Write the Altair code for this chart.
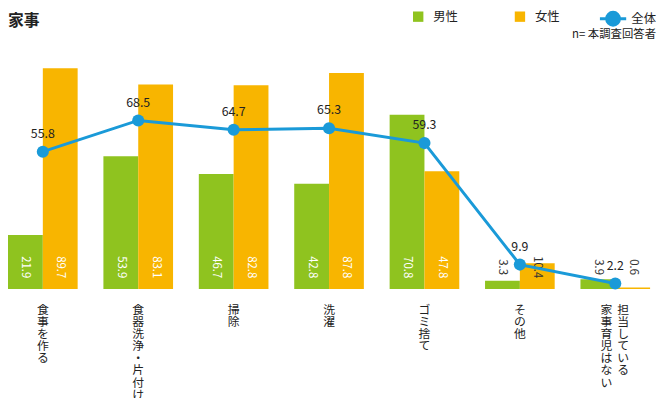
import altair as alt
import pandas as pd

categories = ["食事を作る", "食器洗浄・片付け", "掃除", "洗濯", "ゴミ捨て", "その他", "担当している家事育児はない"]
groups = ["男性", "女性"]
male = [21.9, 53.9, 46.7, 42.8, 70.8, 3.3, 3.9]
female = [89.7, 83.1, 82.8, 87.8, 47.8, 10.4, 0.6]
overall = [55.8, 68.5, 64.7, 65.3, 59.3, 9.9, 2.2]
label_columns = [["食事を作る"], ["食器洗浄・片付け"], ["掃除"], ["洗濯"], ["ゴミ捨て"], ["その他"],
                 ["担当している", "家事育児はない"]]
title_text = "家事"
note_text = "n= 本調査回答者"

GREEN = "#8fc31f"
ORANGE = "#f8b500"
BLUE = "#1a9ad8"
DARK = "#222222"
FONT = "Noto Sans CJK JP"

bars = pd.DataFrame(
    [{"category": c, "group": "男性", "value": v} for c, v in zip(categories, male)]
    + [{"category": c, "group": "女性", "value": v} for c, v in zip(categories, female)]
)
line = pd.DataFrame({"category": categories, "value": overall, "series": ["全体"] * len(categories)})
labels = pd.DataFrame(
    [{"category": c, "text": t, "col": i, "ncols": len(cols)}
     for c, cols in zip(categories, label_columns) for i, t in enumerate(cols)]
)

W, H = 650, 249

x = alt.X("category:N", sort=categories, axis=None,
          scale=alt.Scale(paddingInner=0.27, paddingOuter=0))
y = alt.Y("value:Q", axis=None, scale=alt.Scale(domain=[0, 100], zero=True))
xo = alt.XOffset("group:N", sort=groups, scale=alt.Scale(paddingInner=0, paddingOuter=0))

bar_layer = alt.Chart(bars).mark_bar().encode(
    x=x, xOffset=xo, y=y,
    color=alt.Color("group:N", scale=alt.Scale(domain=groups, range=[GREEN, ORANGE]),
                    legend=alt.Legend(title=None, orient="none", legendX=409, legendY=-33,
                                      direction="horizontal", symbolType="square", symbolSize=110,
                                      symbolStrokeWidth=0, labelFontSize=12.5, labelFont=FONT,
                                      labelColor=DARK, labelOffset=9, columnPadding=56, padding=0)),
)

bar_text = alt.Chart(bars).mark_text(angle=90, align="center", baseline="middle",
                                     fontSize=11.5, font=FONT).encode(
    x=x, xOffset=xo, y=alt.value(227),
    text=alt.Text("value:Q", format=".1f"),
    color=alt.condition(alt.datum.value >= 15, alt.value("white"), alt.value("#333333")),
)

legend_path = "M-1.9,0L1.9,0M0.93,0A0.93,0.93 0 1 1 -0.93,0A0.93,0.93 0 1 1 0.93,0Z"
line_layer = alt.Chart(line).mark_line(strokeWidth=3).encode(
    x=x, y=y,
    color=alt.Color("series:N", scale=alt.Scale(domain=["全体"], range=[BLUE]),
                    legend=alt.Legend(title=None, orient="none", legendX=604, legendY=-33,
                                      symbolType=legend_path, symbolSize=196, symbolStrokeWidth=3,
                                      symbolFillColor=BLUE, labelFontSize=12.5, labelFont=FONT,
                                      labelColor=DARK, labelOffset=10, padding=0)),
)
point_layer = alt.Chart(line).mark_point(filled=True, size=150, opacity=1, color=BLUE).encode(x=x, y=y)
line_text = alt.Chart(line).mark_text(dy=-18, fontSize=12.5, font=FONT, color=DARK,
                                      baseline="middle").encode(
    x=x, y=y, text=alt.Text("value:Q", format=".1f"))

def cat_labels(filt, dx):
    return alt.Chart(labels).transform_filter(filt).transform_calculate(
        lines="split(datum.text, '')"
    ).mark_text(baseline="top", align="center", fontSize=12, lineHeight=12.3, font=FONT,
                color=DARK, dx=dx).encode(x=x, y=alt.value(265), text="lines:N")

lab_single = cat_labels(alt.datum.ncols == 1, 0)
lab_right = cat_labels((alt.datum.ncols == 2) & (alt.datum.col == 0), 8)
lab_left = cat_labels((alt.datum.ncols == 2) & (alt.datum.col == 1), -9)

note = alt.Chart(pd.DataFrame({"t": [note_text]})).mark_text(
    align="right", baseline="middle", fontSize=11.5, font=FONT, color=DARK
).encode(x=alt.value(W + 6), y=alt.value(-8), text="t:N")

title = alt.Chart(pd.DataFrame({"t": [title_text]})).mark_text(
    align="left", baseline="middle", fontSize=16, fontWeight="bold", font=FONT, color=DARK
).encode(x=alt.value(0), y=alt.value(-22), text="t:N")

chart = alt.layer(
    bar_layer, bar_text, line_layer, point_layer, line_text, lab_single, lab_right, lab_left, note, title
).resolve_scale(color="independent").properties(
    width=W, height=H,
    autosize=alt.AutoSizeParams(type="none"),
    padding={"left": 0, "top": 33, "right": 8, "bottom": 108},
).configure_view(stroke=None)

chart.save("out.html", embed_options={"renderer": "svg", "actions": False})
